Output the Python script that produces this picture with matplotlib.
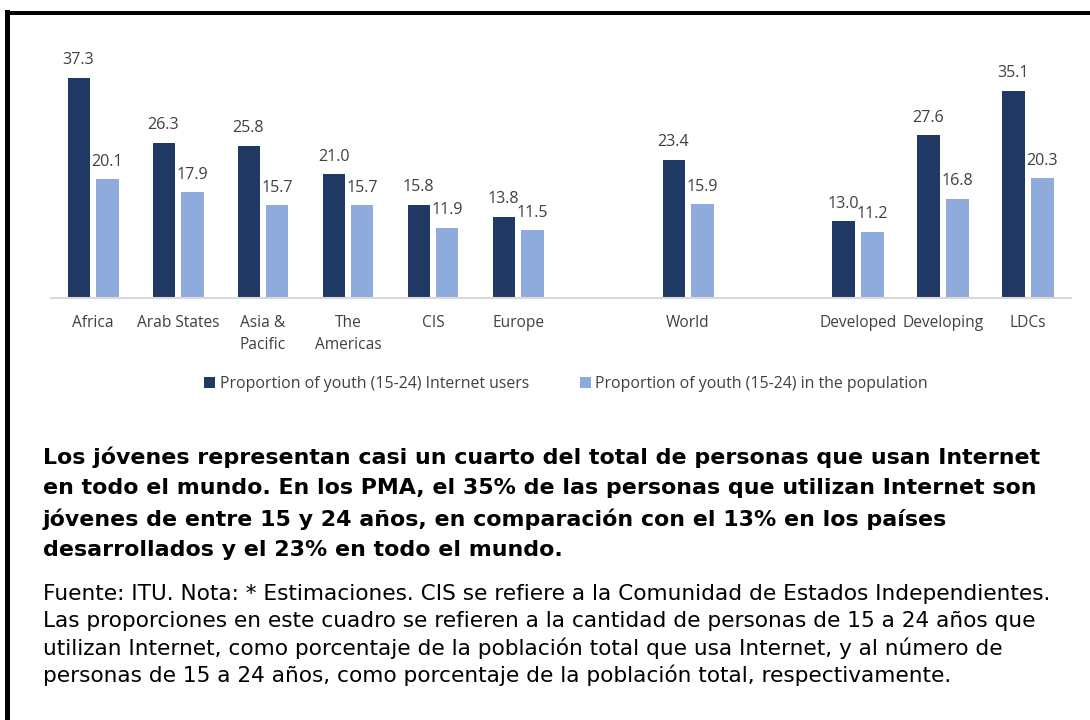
import matplotlib
matplotlib.use("Agg")
import matplotlib.pyplot as plt
from matplotlib.patches import Rectangle
import numpy as np

categories = ["Africa", "Arab States", "Asia &\nPacific", "The\nAmericas", "CIS", "Europe",
              "World", "Developed", "Developing", "LDCs"]
positions = [0, 1, 2, 3, 4, 5, 7, 9, 10, 11]
internet_users = [37.3, 26.3, 25.8, 21.0, 15.8, 13.8, 23.4, 13.0, 27.6, 35.1]
population = [20.1, 17.9, 15.7, 15.7, 11.9, 11.5, 15.9, 11.2, 16.8, 20.3]
series_names = ["Proportion of youth (15-24) Internet users",
                "Proportion of youth (15-24) in the population"]

title_lines = [
    "Los jóvenes representan casi un cuarto del total de personas que usan Internet",
    "en todo el mundo. En los PMA, el 35% de las personas que utilizan Internet son",
    "jóvenes de entre 15 y 24 años, en comparación con el 13% en los países",
    "desarrollados y el 23% en todo el mundo.",
]
note_lines = [
    "Fuente: ITU. Nota: * Estimaciones. CIS se refiere a la Comunidad de Estados Independientes.",
    "Las proporciones en este cuadro se refieren a la cantidad de personas de 15 a 24 años que",
    "utilizan Internet, como porcentaje de la población total que usa Internet, y al número de",
    "personas de 15 a 24 años, como porcentaje de la población total, respectivamente.",
]

DARK = "#1F3864"
LIGHT = "#8FAADC"
TXT = "#404040"

W, H = 1090, 720
fig = plt.figure(figsize=(W / 100, H / 100), dpi=100)
fig.patch.set_facecolor("white")

ax = fig.add_axes([50.5 / W, 1 - 298 / H, (1070.5 - 50.5) / W, (298 - 62) / H])
x = np.array(positions, dtype=float)
bw = 0.26
off = 0.17
b1 = ax.bar(x - off, internet_users, bw, color=DARK, label=series_names[0])
b2 = ax.bar(x + off, population, bw, color=LIGHT, label=series_names[1])
for rects, vals in ((b1, internet_users), (b2, population)):
    for r, v in zip(rects, vals):
        ax.text(r.get_x() + r.get_width() / 2, v + 1.6, f"{v:.1f}", ha="center", va="bottom",
                fontsize=11.6, color=TXT, family="Open Sans")
ax.set_xlim(-0.5, 11.5)
ax.set_ylim(0, 40)
ax.set_yticks([])
for s in ("top", "right", "left"):
    ax.spines[s].set_visible(False)
ax.spines["bottom"].set_color("#D9D9D9")
ax.spines["bottom"].set_linewidth(1.5)
ax.set_xticks(x)
ax.set_xticklabels(categories, fontsize=11.2, color=TXT, family="Open Sans", linespacing=1.55)
ax.tick_params(axis="x", length=0, pad=12)
ax.patch.set_alpha(0)

leg = fig.legend(handles=[b1, b2], loc="center", bbox_to_anchor=(566 / W, 1 - 384 / H),
                 ncol=2, frameon=False, handlelength=0.7, handleheight=0.7,
                 handletextpad=0.3, columnspacing=3.2, prop={"family": "Open Sans", "size": 11.4})
for t in leg.get_texts():
    t.set_color(TXT)

for i, line in enumerate(title_lines):
    fig.text(43 / W, 1 - (457 + 31 * i) / H, line, ha="left", va="center", fontsize=15.9,
             fontweight="bold", family="DejaVu Sans", color="black")
for i, line in enumerate(note_lines):
    fig.text(43 / W, 1 - (594 + 27 * i) / H, line, ha="left", va="center", fontsize=15.6,
             family="DejaVu Sans", color="black")

# frame lines
fig.add_artist(Rectangle((5 / W, 0), 4.5 / W, 1 - 10 / H, transform=fig.transFigure,
                         color="black", lw=0))
fig.add_artist(Rectangle((5 / W, 1 - 15 / H), 1 - 5 / W, 4.5 / H, transform=fig.transFigure,
                         color="black", lw=0))

fig.savefig("out.png", dpi=100)
